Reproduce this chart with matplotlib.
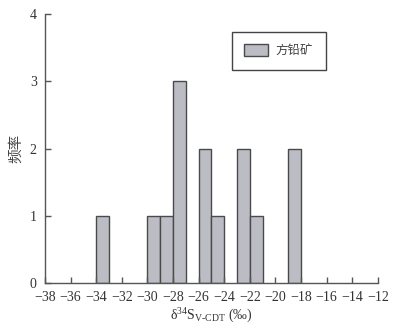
import matplotlib
matplotlib.use('Agg')
import matplotlib.pyplot as plt

###  histogram of galena sulfur isotopes, bins are 1 permil wide
binLeft = [-34, -30, -29, -28, -26, -25, -23, -22, -19]
counts = [1, 1, 1, 3, 2, 1, 2, 1, 2]
xTicks = list(range(-38, -11, 2))
yTicks = [0, 1, 2, 3, 4]

plt.rcParams['font.family'] = ['Liberation Serif', 'Noto Sans CJK SC']
plt.rcParams['mathtext.fontset'] = 'custom'
plt.rcParams['mathtext.rm'] = 'Liberation Serif'
plt.rcParams['mathtext.it'] = 'Liberation Serif:italic'
grey = '#555555'

fig = plt.figure(figsize=(4.09, 3.29), dpi=100)
ax = fig.add_axes([0.110, 0.140, 0.814, 0.817])

ax.bar(binLeft, counts, width=1, align='edge', color='#bcbcc4',
       edgecolor='#4a4a4a', linewidth=1.0, label='方铅矿')

ax.set_xlim(-38, -12)
ax.set_ylim(0, 4)
ax.set_xticks(xTicks)
ax.set_xticklabels(['\u2212' + str(abs(t)) for t in xTicks])
ax.set_yticks(yTicks)

for s in ['top', 'right']:
    ax.spines[s].set_visible(False)
for s in ['left', 'bottom']:
    ax.spines[s].set_color(grey)
    ax.spines[s].set_linewidth(1.0)
ax.tick_params(direction='in', length=4, width=1.0, color=grey,
               labelcolor='#333333', labelsize=10, pad=6)

ax.set_xlabel('δ$^{34}$S$_{\\mathrm{V\\text{-}CDT}}$ (‰)', fontsize=10,
              color='#333333', labelpad=2)
ax.set_ylabel('频率', fontsize=10.5, color='#444444',
              family=['Noto Sans CJK SC'], labelpad=5)

leg = ax.legend(loc='upper left', bbox_to_anchor=(0.561, 0.935),
                fancybox=False, framealpha=1, edgecolor='#444444',
                prop={'family': ['Noto Sans CJK SC'], 'size': 9},
                handlelength=1.9, handleheight=1.1, borderpad=1.0,
                handletextpad=0.6, borderaxespad=0)
leg.get_frame().set_linewidth(1.0)
for t in leg.get_texts():
    t.set_color('#444444')

fig.savefig('out.png', dpi=100)
